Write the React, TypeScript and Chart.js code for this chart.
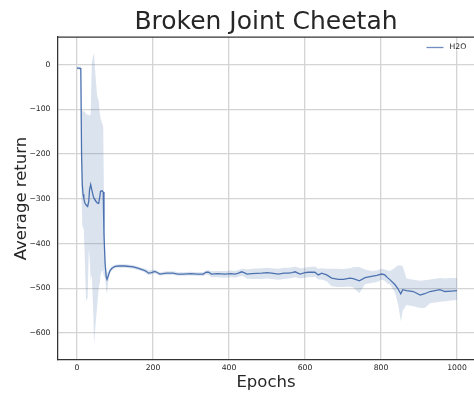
import React, { useEffect, useRef } from "react";
import { Chart, registerables } from "chart.js";

Chart.register(...registerables);

// Training epochs at which the return was logged
const epochs = [
  0, 5, 10, 12, 14, 16, 18, 21, 24, 28, 31, 33, 36, 39, 43, 45, 47, 50, 53, 57,
  60, 62, 66, 69, 71, 74, 77, 79, 83, 87, 92, 100, 110, 126, 148, 160, 175, 182,
  188, 196, 205, 212, 218, 235, 253, 265, 280, 300, 315, 332, 340, 346, 354, 370,
  389, 405, 416, 425, 433, 440, 447, 460, 486, 500, 512, 530, 545, 556, 566, 574,
  587, 600, 609, 626, 635, 644, 657, 670, 688, 701, 718, 727, 743, 758, 775, 789,
  802, 810, 817, 824, 837, 843, 846, 852, 857, 867, 885, 903, 915, 929, 955, 968,
  985, 1000,
];

// Mean average return across seeds
const meanReturn = [
  -8, -8, -9, -200, -270, -290, -300, -310, -314, -317, -305, -280, -268, -280, -295, -299, -302, -305, -309, -310,
  -295, -283, -282, -285, -380, -445, -475, -480, -470, -460, -455, -451, -450, -450, -452, -455, -459, -462,
  -466, -465, -462, -465, -468, -466, -466, -468, -468, -467, -468, -468, -464, -464, -468, -467,
  -468, -467, -468, -466, -463, -465, -468, -467, -466, -465, -466, -468, -466, -466, -465, -463,
  -468, -465, -464, -464, -470, -466, -470, -477, -480, -480, -477, -478, -483, -476, -473, -471,
  -468, -470, -476, -481, -492, -499, -503, -512, -503, -505, -507, -515, -512, -507, -503, -507,
  -506, -505,
];

// Upper edge of the spread band
const upperReturn = [
  -5, -5, -5, -100, -104, -105, -104, -106, -110, -112, -112, -115, -110, 5, 20, 26, -5, -40, -70, -82,
  -110, -120, -130, -140, -300, -435, -460, -465, -462, -455, -450, -447, -446, -446, -448, -451, -455, -457,
  -460, -459, -458, -461, -464, -462, -462, -464, -464, -463, -464, -464, -460, -459, -462, -461,
  -461, -460, -461, -459, -456, -457, -458, -456, -455, -454, -455, -456, -454, -454, -453, -451,
  -455, -454, -452, -451, -456, -455, -456, -456, -456, -457, -455, -453, -452, -458, -461, -460,
  -456, -458, -460, -461, -454, -449, -449, -449, -450, -478, -481, -483, -482, -480, -477, -478,
  -477, -477,
];

// Lower edge of the spread band
const lowerReturn = [
  -11, -11, -13, -300, -360, -369, -369, -450, -530, -520, -414, -430, -481, -470, -560, -626, -600, -570, -540, -500,
  -488, -470, -460, -460, -470, -480, -505, -511, -480, -466, -460, -455, -454, -454, -456, -459, -463, -467,
  -470, -469, -467, -469, -472, -470, -470, -472, -472, -471, -472, -473, -469, -470, -475, -475,
  -476, -475, -476, -474, -472, -474, -478, -479, -479, -478, -479, -481, -479, -478, -477, -475,
  -478, -476, -475, -474, -480, -480, -484, -495, -497, -497, -496, -498, -511, -490, -488, -486,
  -481, -483, -489, -492, -510, -530, -540, -574, -550, -537, -540, -544, -544, -533, -530, -529,
  -527, -526,
];

const xTicks = [0, 200, 400, 600, 800, 1000];
const yTicks = [-600, -500, -400, -300, -200, -100, 0];

const LINE_COLOR = "#4c72b0";
const BAND_COLOR = "rgba(76,114,176,0.2)";
const GRID_COLOR = "#d4d4d4";
const SPINE_COLOR = "#333333";
const TEXT_COLOR = "#262626";
const FONT_FAMILY = "'DejaVu Sans', sans-serif";

const points = (ys: number[]) => epochs.map((e, i) => ({ x: e, y: ys[i] }));

const formatTick = (v: number | string) => {
  const n = Number(v);
  return n < 0 ? "\u2212" + Math.abs(n) : String(n);
};

// Draws the upper frame line of the plotting area
const topSpine = {
  id: "topSpine",
  afterDraw(chart: Chart) {
    const { ctx, chartArea } = chart;
    ctx.save();
    ctx.strokeStyle = SPINE_COLOR;
    ctx.lineWidth = 1.25;
    ctx.beginPath();
    ctx.moveTo(chartArea.left, chartArea.top);
    ctx.lineTo(chartArea.right, chartArea.top);
    ctx.stroke();
    ctx.restore();
  },
};

// Legend entry for the mean line, tucked into the upper-right corner of the plot
const cornerLegend = {
  id: "cornerLegend",
  afterDraw(chart: Chart) {
    const { ctx, chartArea } = chart;
    const ds = chart.data.datasets[2] as any;
    const y = chartArea.top + 10.5;
    const x0 = chartArea.right - 47.5;
    ctx.save();
    ctx.globalAlpha = 0.8;
    ctx.strokeStyle = ds.borderColor;
    ctx.lineWidth = 1.3;
    ctx.beginPath();
    ctx.moveTo(x0, y);
    ctx.lineTo(x0 + 17, y);
    ctx.stroke();
    ctx.globalAlpha = 1;
    ctx.fillStyle = TEXT_COLOR;
    ctx.font = `7.7px ${FONT_FAMILY}`;
    ctx.textBaseline = "middle";
    ctx.textAlign = "left";
    ctx.fillText(ds.label, x0 + 23, y);
    ctx.restore();
  },
};

export default function App() {
  const canvasRef = useRef<HTMLCanvasElement | null>(null);

  useEffect(() => {
    if (!canvasRef.current) return;
    const chart = new Chart(canvasRef.current, {
      type: "line",
      data: {
        datasets: [
          {
            label: "upper",
            data: points(upperReturn),
            borderWidth: 0,
            borderColor: "transparent",
            backgroundColor: BAND_COLOR,
            pointRadius: 0,
            fill: "+1",
          },
          {
            label: "lower",
            data: points(lowerReturn),
            borderWidth: 0,
            borderColor: "transparent",
            backgroundColor: BAND_COLOR,
            pointRadius: 0,
            fill: false,
          },
          {
            label: "H2O",
            data: points(meanReturn),
            borderColor: LINE_COLOR,
            backgroundColor: LINE_COLOR,
            borderWidth: 1.3,
            pointRadius: 0,
            fill: false,
          },
        ],
      },
      options: {
        animation: false,
        responsive: false,
        devicePixelRatio: 1,
        layout: { padding: 0 },
        plugins: {
          title: {
            display: true,
            text: "Broken Joint Cheetah",
            fullSize: false,
            color: TEXT_COLOR,
            font: { family: FONT_FAMILY, size: 25, weight: "normal", lineHeight: 1 },
            padding: { top: 10.3, bottom: 1.7 },
          },
          legend: { display: false },
          tooltip: { enabled: false },
        },
        scales: {
          x: {
            type: "linear",
            min: -50,
            max: 1044.7,
            afterBuildTicks: (axis) => {
              axis.ticks = xTicks.map((v) => ({ value: v }));
            },
            afterFit: (axis) => {
              axis.height = 38;
            },
            grid: { color: GRID_COLOR, lineWidth: 1.3, drawTicks: false },
            border: { display: true, color: SPINE_COLOR, width: 1.25 },
            ticks: {
              padding: 3,
              color: TEXT_COLOR,
              font: { family: FONT_FAMILY, size: 7.7 },
              maxRotation: 0,
              callback: formatTick,
            },
            title: {
              display: true,
              text: "Epochs",
              color: TEXT_COLOR,
              font: { family: FONT_FAMILY, size: 16.5 },
              padding: { top: 0, bottom: 5.7 },
            },
          },
          y: {
            type: "linear",
            min: -660,
            max: 61.5,
            afterBuildTicks: (axis) => {
              axis.ticks = yTicks.map((v) => ({ value: v }));
            },
            afterFit: (axis) => {
              axis.width = 58;
            },
            grid: { color: GRID_COLOR, lineWidth: 1.3, drawTicks: false },
            border: { display: true, color: SPINE_COLOR, width: 1.25 },
            ticks: {
              padding: 7.5,
              color: TEXT_COLOR,
              font: { family: FONT_FAMILY, size: 7.7 },
              callback: formatTick,
            },
            title: {
              display: true,
              text: "Average return",
              color: TEXT_COLOR,
              font: { family: FONT_FAMILY, size: 16.5 },
              padding: { top: 12, bottom: 0 },
            },
          },
        },
      },
      plugins: [topSpine, cornerLegend],
    });
    return () => chart.destroy();
  }, []);

  return (
    <div style={{ position: "absolute", left: 0, top: 0, width: 474, height: 398, background: "#ffffff" }}>
      <canvas ref={canvasRef} width={474} height={398} style={{ display: "block" }} />
    </div>
  );
}
